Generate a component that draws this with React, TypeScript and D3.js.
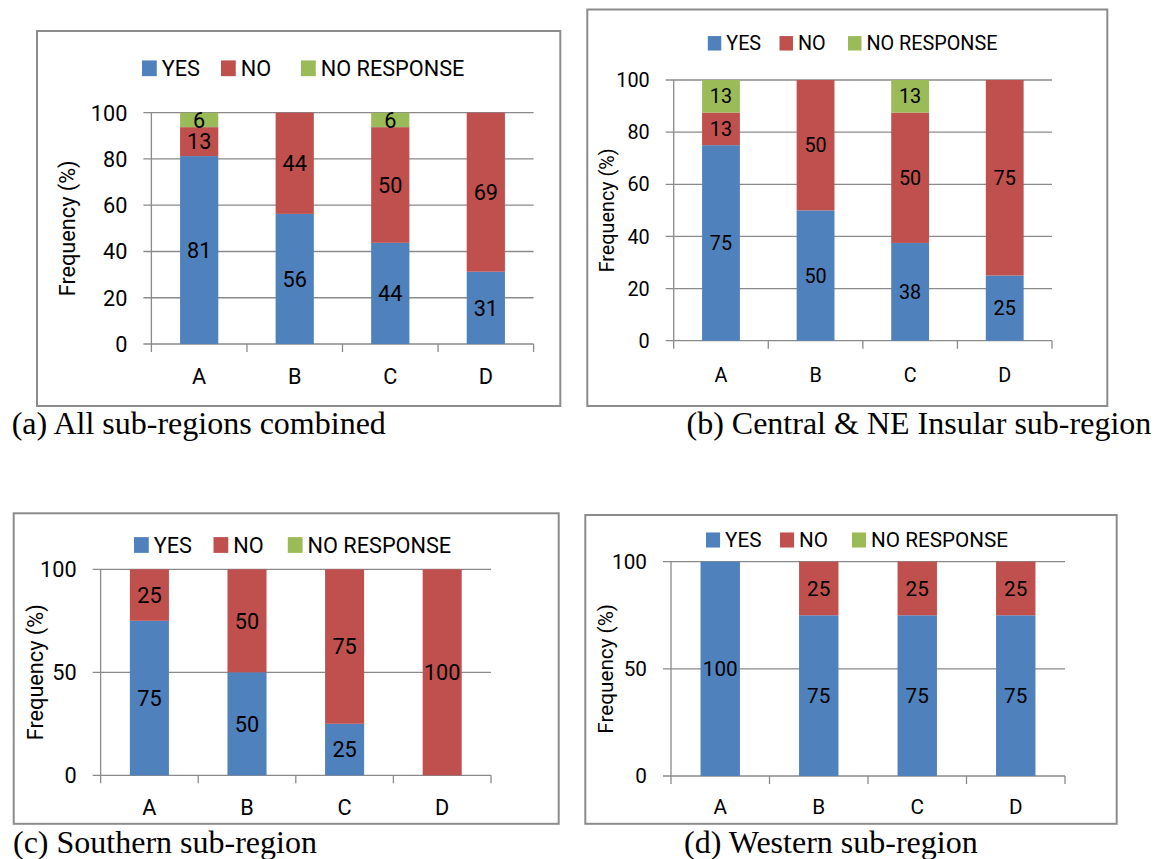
import React from 'react';
import * as d3 from 'd3';

const categories = ['A', 'B', 'C', 'D'];
const seriesNames = ['YES', 'NO', 'NO RESPONSE'];
const seriesColors = ['#4F81BD', '#C0504D', '#9BBB59'];

// (a) All sub-regions combined
const yesA = [81.25, 56.25, 43.75, 31.25];
const noA = [12.5, 43.75, 50, 68.75];
const nrA = [6.25, 0, 6.25, 0];
const ticksA = [0, 20, 40, 60, 80, 100];

// (b) Central & NE Insular sub-region
const yesB = [75, 50, 37.5, 25];
const noB = [12.5, 50, 50, 75];
const nrB = [12.5, 0, 12.5, 0];
const ticksB = [0, 20, 40, 60, 80, 100];

// (c) Southern sub-region
const yesC = [75, 50, 25, 0];
const noC = [25, 50, 75, 100];
const nrC = [0, 0, 0, 0];
const ticksC = [0, 50, 100];

// (d) Western sub-region
const yesD = [100, 75, 75, 75];
const noD = [0, 25, 25, 25];
const nrD = [0, 0, 0, 0];
const ticksD = [0, 50, 100];

const captions = [
  '(a) All sub-regions combined',
  '(b) Central & NE Insular sub-region',
  '(c) Southern sub-region',
  '(d) Western sub-region',
];
const yTitle = 'Frequency (%)';

type Layout = {
  box: [number, number, number, number];
  plot: { left: number; right: number; top: number; bottom: number };
  legendY: number;
  legendX: number[];
  font: number;
  titleX: number;
  xLabelY: number;
  caption: [number, number];
};

const layouts: Layout[] = [
  { box: [37, 31, 560.3, 406], plot: { left: 151.4, right: 533.6, top: 112.7, bottom: 344 }, legendY: 68.3, legendX: [142, 221, 301], font: 21.7, titleX: 67.5, xLabelY: 376, caption: [11.7, 434] },
  { box: [587.3, 9.5, 1107.3, 406], plot: { left: 673.7, right: 1052, top: 80, bottom: 340.7 }, legendY: 43.3, legendX: [707.8, 779.5, 848], font: 19.8, titleX: 606.5, xLabelY: 375, caption: [686.5, 434] },
  { box: [13.7, 513.3, 558.7, 823.8], plot: { left: 100.6, right: 491, top: 569.3, bottom: 775.3 }, legendY: 545, legendX: [134, 213.5, 287.8], font: 21.7, titleX: 35.1, xLabelY: 806.7, caption: [13, 853] },
  { box: [585.3, 515, 1116.7, 823.8], plot: { left: 671, right: 1065, top: 561.7, bottom: 776 }, legendY: 540, legendX: [706, 780, 852], font: 20.7, titleX: 605.7, xLabelY: 806.7, caption: [684, 853] },
];

const panelData = [
  { series: [yesA, noA, nrA], ticks: ticksA },
  { series: [yesB, noB, nrB], ticks: ticksB },
  { series: [yesC, noC, nrC], ticks: ticksC },
  { series: [yesD, noD, nrD], ticks: ticksD },
];

const SANS = 'Roboto, Lato, "Noto Sans", sans-serif';
const SERIF = '"Liberation Serif", "Times New Roman", serif';
const GRID = '#8a8a8a';

function Panel({ idx }: { idx: number }) {
  const L = layouts[idx];
  const { series, ticks } = panelData[idx];
  const table = categories.map((c, i) => ({
    cat: c,
    YES: series[0][i],
    NO: series[1][i],
    'NO RESPONSE': series[2][i],
  }));
  const stacked = d3.stack<any>().keys(seriesNames)(table);
  const x = d3
    .scaleBand<string>()
    .domain(categories)
    .range([L.plot.left, L.plot.right])
    .paddingInner(0.6)
    .paddingOuter(0.3);
  const y = d3.scaleLinear().domain([0, 100]).range([L.plot.bottom, L.plot.top]);
  const step = x.step();
  const fs = L.font;
  const [bx0, by0, bx1, by1] = L.box;
  const sq = fs * 0.68;
  const plotMidY = (L.plot.top + L.plot.bottom) / 2;

  return (
    <g>
      <rect x={bx0} y={by0} width={bx1 - bx0} height={by1 - by0} fill="#fff" stroke="#8c8c8c" strokeWidth={2} />
      {/* legend */}
      {seriesNames.map((s, i) => (
        <g key={s}>
          <rect x={L.legendX[i]} y={L.legendY - sq / 2 - 0.5} width={sq} height={sq + 1} fill={seriesColors[i]} />
          <text x={L.legendX[i] + sq + 5} y={L.legendY} dy="0.36em" fontFamily={SANS} fontSize={fs} fill="#000">
            {s}
          </text>
        </g>
      ))}
      {/* gridlines and y ticks */}
      {ticks.map((t) => (
        <g key={t}>
          <line x1={L.plot.left - 8} x2={L.plot.right} y1={y(t)} y2={y(t)} stroke={GRID} strokeWidth={1.3} />
          <text x={L.plot.left - 24} y={y(t)} dy="0.36em" textAnchor="end" fontFamily={SANS} fontSize={fs} fill="#000">
            {t}
          </text>
        </g>
      ))}
      {/* y axis line */}
      <line x1={L.plot.left} x2={L.plot.left} y1={L.plot.top} y2={L.plot.bottom} stroke={GRID} strokeWidth={1.3} />
      {/* category ticks */}
      {d3.range(categories.length + 1).map((i) => (
        <line
          key={i}
          x1={L.plot.left + i * step}
          x2={L.plot.left + i * step}
          y1={L.plot.bottom}
          y2={L.plot.bottom + 8}
          stroke={GRID}
          strokeWidth={1.3}
        />
      ))}
      {/* bars */}
      {stacked.map((layer, si) =>
        layer.map((d, ci) => {
          const v = d[1] - d[0];
          if (v <= 0) return null;
          return (
            <rect
              key={`${si}-${ci}`}
              x={x(categories[ci])}
              y={y(d[1])}
              width={x.bandwidth()}
              height={y(d[0]) - y(d[1])}
              fill={seriesColors[si]}
            />
          );
        })
      )}
      {/* data labels */}
      {stacked.map((layer, si) =>
        layer.map((d, ci) => {
          const v = d[1] - d[0];
          if (v <= 0) return null;
          return (
            <text
              key={`l${si}-${ci}`}
              x={(x(categories[ci]) as number) + x.bandwidth() / 2}
              y={y((d[0] + d[1]) / 2)}
              dy="0.36em"
              textAnchor="middle"
              fontFamily={SANS}
              fontSize={fs}
              fill="#000"
            >
              {Math.round(v)}
            </text>
          );
        })
      )}
      {/* x labels */}
      {categories.map((c) => (
        <text
          key={c}
          x={(x(c) as number) + x.bandwidth() / 2}
          y={L.xLabelY}
          dy="0.36em"
          textAnchor="middle"
          fontFamily={SANS}
          fontSize={fs}
          fill="#000"
        >
          {c}
        </text>
      ))}
      {/* y title */}
      <text
        transform={`translate(${L.titleX},${plotMidY}) rotate(-90)`}
        dy="0.36em"
        textAnchor="middle"
        fontFamily={SANS}
        fontSize={fs}
        fill="#000"
      >
        {yTitle}
      </text>
      {/* caption */}
      <text x={L.caption[0]} y={L.caption[1]} fontFamily={SERIF} fontSize={32} fill="#000">
        {captions[idx]}
      </text>
    </g>
  );
}

export default function App() {
  return (
    <svg
      width={1156}
      height={859}
      viewBox="0 0 1156 859"
      style={{ position: 'absolute', left: 0, top: 0, background: '#fff' }}
    >
      <rect width={1156} height={859} fill="#fff" />
      {layouts.map((_, i) => (
        <Panel key={i} idx={i} />
      ))}
    </svg>
  );
}
